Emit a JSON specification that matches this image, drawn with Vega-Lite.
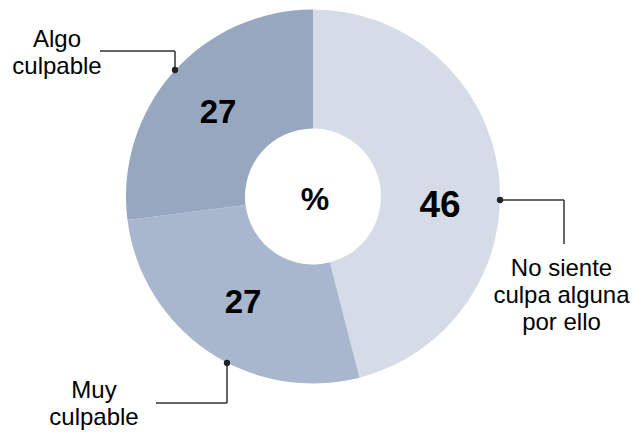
{
  "$schema": "https://vega.github.io/schema/vega-lite/v6.json",
  "width": 626,
  "height": 393,
  "autosize": {"type": "none"},
  "padding": {"left": 0, "top": 0, "right": 7, "bottom": 40},
  "background": "white",
  "config": {"view": {"stroke": null}, "font": "Liberation Sans"},
  "datasets": {
    "slices": [
      {"respuesta": "No siente culpa alguna por ello", "pct": 46, "orden": 1},
      {"respuesta": "Muy culpable", "pct": 27, "orden": 2},
      {"respuesta": "Algo culpable", "pct": 27, "orden": 3}
    ],
    "valores": [
      {"texto": "46", "grupo": "mayor", "x": 127, "y": -20.5},
      {"texto": "27", "grupo": "menor", "x": -95, "y": 73.5},
      {"texto": "27", "grupo": "menor", "x": -70, "y": -116.5},
      {"texto": "%", "grupo": "centro", "x": 2, "y": -13.5}
    ],
    "etiquetas": [
      {"texto": "Algo\nculpable", "x": -256, "y": 149.5},
      {"texto": "Muy\nculpable", "x": -219, "y": -201.5},
      {"texto": "No siente\nculpa alguna\npor ello", "x": 248.5, "y": -79.5}
    ],
    "lineas": [
      {"x": -213, "y": 145.5, "x2": -138, "y2": 145.5},
      {"x": -138, "y": 145.5, "x2": -138, "y2": 126.5},
      {"x": -86, "y": -166.5, "x2": -86, "y2": -206.5},
      {"x": -157, "y": -206.5, "x2": -86, "y2": -206.5},
      {"x": 187, "y": -3.5, "x2": 251, "y2": -3.5},
      {"x": 251, "y": -3.5, "x2": 251, "y2": -47.5}
    ],
    "puntos": [
      {"x": -138, "y": 126.5},
      {"x": -86, "y": -166.5},
      {"x": 187, "y": -3.5}
    ]
  },
  "layer": [
    {
      "data": {"name": "slices"},
      "mark": {"type": "arc", "outerRadius": 187, "innerRadius": 68},
      "encoding": {
        "theta": {"field": "pct", "type": "quantitative", "stack": true},
        "order": {"field": "orden", "type": "quantitative"},
        "color": {
          "field": "respuesta",
          "type": "nominal",
          "legend": null,
          "scale": {
            "domain": ["No siente culpa alguna por ello", "Muy culpable", "Algo culpable"],
            "range": ["#d5dce7", "#a8b7cd", "#97a7c0"]
          }
        }
      }
    },
    {
      "data": {"name": "lineas"},
      "mark": {"type": "rule", "color": "#333333", "strokeWidth": 1.5},
      "encoding": {
        "x": {"field": "x", "type": "quantitative", "axis": null, "scale": {"domain": [-313, 313], "nice": false, "zero": false}},
        "y": {"field": "y", "type": "quantitative", "axis": null, "scale": {"domain": [-196.5, 196.5], "nice": false, "zero": false}},
        "x2": {"field": "x2"},
        "y2": {"field": "y2"}
      }
    },
    {
      "data": {"name": "puntos"},
      "mark": {"type": "point", "filled": true, "color": "#222222", "size": 40, "opacity": 1},
      "encoding": {
        "x": {"field": "x", "type": "quantitative", "axis": null, "scale": {"domain": [-313, 313], "nice": false, "zero": false}},
        "y": {"field": "y", "type": "quantitative", "axis": null, "scale": {"domain": [-196.5, 196.5], "nice": false, "zero": false}}
      }
    },
    {
      "data": {"name": "valores"},
      "transform": [{"filter": "datum.grupo === 'mayor'"}],
      "mark": {"type": "text", "fontSize": 37, "fontWeight": "bold", "align": "center", "baseline": "alphabetic", "color": "#000000"},
      "encoding": {
        "x": {"field": "x", "type": "quantitative", "axis": null, "scale": {"domain": [-313, 313], "nice": false, "zero": false}},
        "y": {"field": "y", "type": "quantitative", "axis": null, "scale": {"domain": [-196.5, 196.5], "nice": false, "zero": false}},
        "text": {"field": "texto"}
      }
    },
    {
      "data": {"name": "valores"},
      "transform": [{"filter": "datum.grupo === 'menor'"}],
      "mark": {"type": "text", "fontSize": 33, "fontWeight": "bold", "align": "center", "baseline": "alphabetic", "color": "#000000"},
      "encoding": {
        "x": {"field": "x", "type": "quantitative", "axis": null, "scale": {"domain": [-313, 313], "nice": false, "zero": false}},
        "y": {"field": "y", "type": "quantitative", "axis": null, "scale": {"domain": [-196.5, 196.5], "nice": false, "zero": false}},
        "text": {"field": "texto"}
      }
    },
    {
      "data": {"name": "valores"},
      "transform": [{"filter": "datum.grupo === 'centro'"}],
      "mark": {"type": "text", "fontSize": 32, "fontWeight": "bold", "align": "center", "baseline": "alphabetic", "color": "#000000"},
      "encoding": {
        "x": {"field": "x", "type": "quantitative", "axis": null, "scale": {"domain": [-313, 313], "nice": false, "zero": false}},
        "y": {"field": "y", "type": "quantitative", "axis": null, "scale": {"domain": [-196.5, 196.5], "nice": false, "zero": false}},
        "text": {"field": "texto"}
      }
    },
    {
      "data": {"name": "etiquetas"},
      "mark": {"type": "text", "fontSize": 24, "align": "center", "baseline": "alphabetic", "lineBreak": "\n", "lineHeight": 27, "color": "#000000"},
      "encoding": {
        "x": {"field": "x", "type": "quantitative", "axis": null, "scale": {"domain": [-313, 313], "nice": false, "zero": false}},
        "y": {"field": "y", "type": "quantitative", "axis": null, "scale": {"domain": [-196.5, 196.5], "nice": false, "zero": false}},
        "text": {"field": "texto"}
      }
    }
  ]
}
